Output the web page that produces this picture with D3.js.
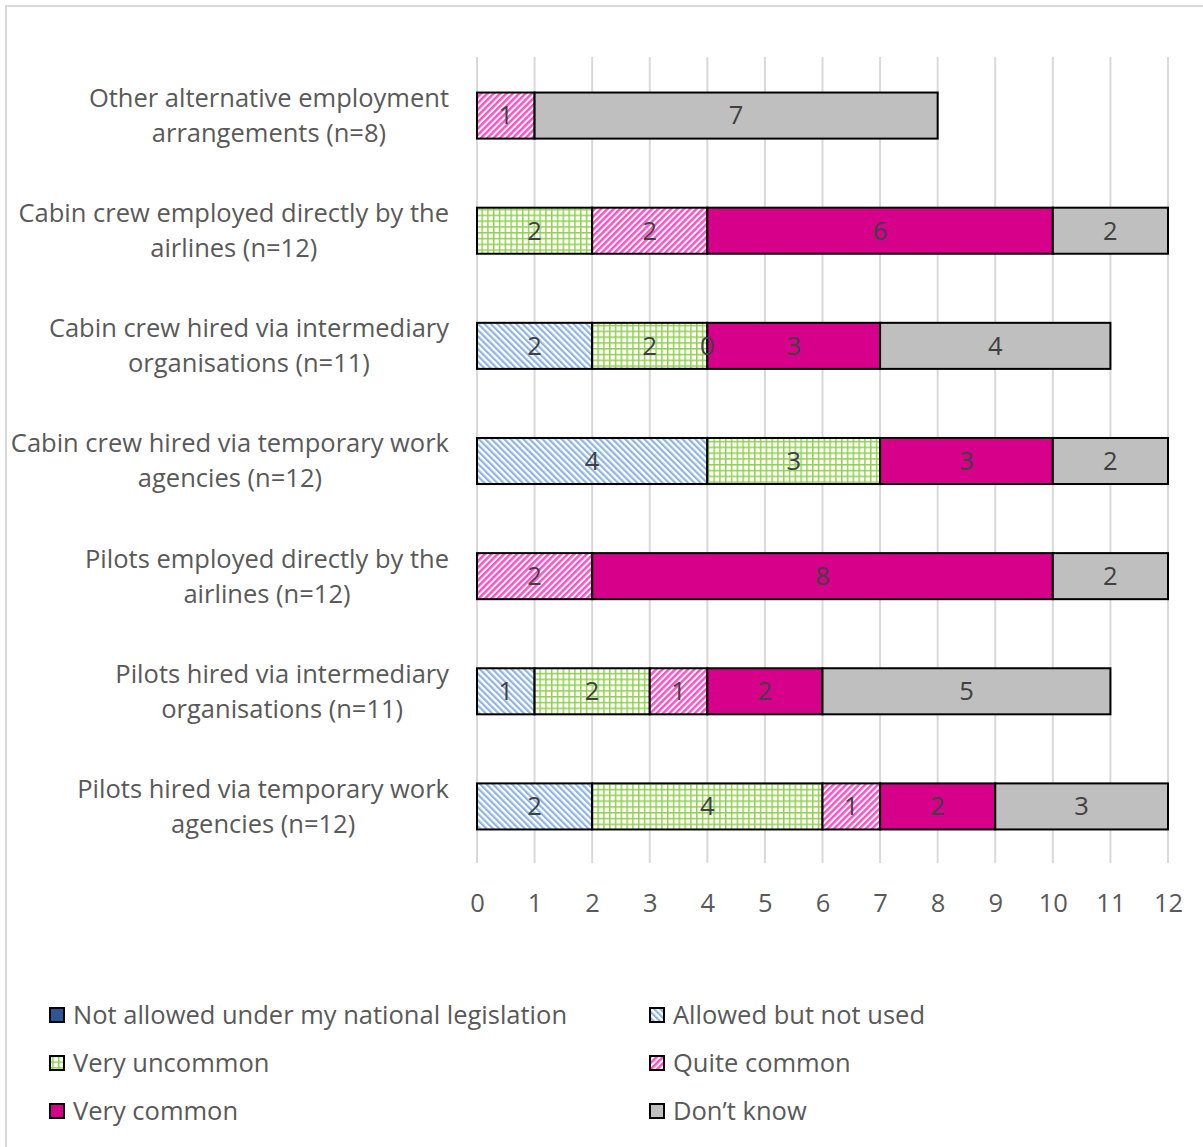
<!DOCTYPE html>
<html>
<head>
<meta charset="utf-8">
<script src="https://cdn.jsdelivr.net/npm/d3@7"></script>
<style>
  body { margin: 0; background: #fff; }
  svg { display: block; font-family: "Open Sans", Lato, sans-serif; }
</style>
</head>
<body>
<div id="chart"></div>
<script>
// Chart data (top to bottom)
const categories = [
    ['Other alternative employment', 'arrangements (n=8)'],
    ['Cabin crew employed directly by the', 'airlines (n=12)'],
    ['Cabin crew hired via intermediary', 'organisations (n=11)'],
    ['Cabin crew hired via temporary work', 'agencies (n=12)'],
    ['Pilots employed directly by the', 'airlines (n=12)'],
    ['Pilots hired via intermediary', 'organisations (n=11)'],
    ['Pilots hired via temporary work', 'agencies (n=12)']
];
const seriesNames = ['Not allowed under my national legislation', 'Allowed but not used',
    'Very uncommon', 'Quite common', 'Very common', 'Don\u2019t know'];

// null = no data label shown, 0 = zero label shown
const notAllowed    = [null, null, null, null, null, null, null];
const allowedUnused = [null, null, 2, 4, null, 1, 2];
const veryUncommon  = [null, 2, 2, 3, null, 2, 4];
const quiteCommon   = [1, 2, 0, null, 2, 1, 1];
const veryCommon    = [null, 6, 3, 3, 8, 2, 2];
const dontKnow      = [7, 2, 4, 2, 2, 5, 3];

const xTicks = [0, 1, 2, 3, 4, 5, 6, 7, 8, 9, 10, 11, 12];

const seriesValues = [notAllowed, allowedUnused, veryUncommon, quiteCommon, veryCommon, dontKnow];
const fills = ['#2f5597', 'url(#pBlue)', 'url(#pGreen)', 'url(#pPink)', '#d6008a', '#bfbfbf'];

const width = 1203, height = 1147;
const plot = {left: 477, right: 1168, top: 57, bottom: 863};
const FONT = 25.5;

const svg = d3.select('#chart').append('svg')
    .attr('width', width)
    .attr('height', height);

// Patterns
const defs = svg.append('defs');

const pBlue = defs.append('pattern').attr('id', 'pBlue')
    .attr('patternUnits', 'userSpaceOnUse')
    .attr('width', 4.5).attr('height', 10)
    .attr('patternTransform', 'rotate(-45)');
pBlue.append('rect').attr('width', 4.5).attr('height', 10).attr('fill', '#fff');
pBlue.append('rect').attr('width', 2.2).attr('height', 10).attr('fill', '#8db4e2');

const pPink = defs.append('pattern').attr('id', 'pPink')
    .attr('patternUnits', 'userSpaceOnUse')
    .attr('width', 4.5).attr('height', 10)
    .attr('patternTransform', 'rotate(45)');
pPink.append('rect').attr('width', 4.5).attr('height', 10).attr('fill', '#fff');
pPink.append('rect').attr('width', 2.5).attr('height', 10).attr('fill', '#ff4fc8');

const pGreen = defs.append('pattern').attr('id', 'pGreen')
    .attr('patternUnits', 'userSpaceOnUse')
    .attr('width', 5.8).attr('height', 5.8);
pGreen.append('rect').attr('width', 5.8).attr('height', 5.8).attr('fill', '#fff');
pGreen.append('rect').attr('width', 1.5).attr('height', 5.8).attr('fill', '#92d050');
pGreen.append('rect').attr('width', 5.8).attr('height', 1.5).attr('fill', '#92d050');

// Outer border
svg.append('rect')
    .attr('x', 6).attr('y', 6)
    .attr('width', 1220).attr('height', 1170)
    .attr('fill', 'none')
    .attr('stroke', '#d9d9d9')
    .attr('stroke-width', 2);

// Scales
const x = d3.scaleLinear().domain([0, 12]).range([plot.left, plot.right]);
const y = d3.scaleBand()
    .domain(d3.range(categories.length))
    .range([plot.top, plot.bottom])
    .paddingInner(0.6)
    .paddingOuter(0.3);

// Gridlines
svg.append('g')
    .selectAll('line')
    .data(xTicks)
    .enter()
    .append('line')
    .attr('x1', d => x(d)).attr('x2', d => x(d))
    .attr('y1', plot.top).attr('y2', plot.bottom)
    .attr('stroke', '#d9d9d9')
    .attr('stroke-width', 2);

// X axis labels
const xAxis = svg.append('g')
    .attr('transform', `translate(0,${plot.bottom + 40})`)
    .call(d3.axisBottom(x).tickValues(xTicks).tickSize(0).tickPadding(0));
xAxis.select('.domain').remove();
xAxis.selectAll('text')
    .attr('dy', '0.35em')
    .style('font-size', FONT + 'px')
    .style('font-family', '"Open Sans", Lato, sans-serif')
    .attr('fill', '#595959');

// Build stacked segments
const segments = [];
categories.forEach((c, i) => {
    let acc = 0;
    seriesValues.forEach((vals, s) => {
        const v = vals[i];
        if (v === null) return;
        segments.push({cat: i, series: s, x0: acc, x1: acc + v, value: v});
        acc += v;
    });
});

const bars = svg.append('g');
bars.selectAll('rect')
    .data(segments.filter(d => d.value > 0))
    .enter()
    .append('rect')
    .attr('x', d => x(d.x0))
    .attr('y', d => y(d.cat) + 1)
    .attr('width', d => x(d.x1) - x(d.x0))
    .attr('height', y.bandwidth())
    .attr('fill', d => fills[d.series])
    .attr('stroke', '#000')
    .attr('stroke-width', 2);

// Data labels
svg.append('g')
    .selectAll('text')
    .data(segments)
    .enter()
    .append('text')
    .attr('x', d => (x(d.x0) + x(d.x1)) / 2)
    .attr('y', d => y(d.cat) + 1 + y.bandwidth() / 2)
    .attr('dy', '0.35em')
    .attr('text-anchor', 'middle')
    .attr('font-size', FONT)
    .attr('fill', '#404040')
    .text(d => d.value);

// Category labels: centred block, right edge at 449
const labelRight = 449;
const catG = svg.append('g');
categories.forEach((lines, i) => {
    const g = catG.append('g');
    const texts = lines.map((ln, k) => g.append('text')
        .attr('y', y(i) + 1 + y.bandwidth() / 2 + (k - 0.5) * 35)
        .attr('dy', '0.35em')
        .attr('text-anchor', 'middle')
        .attr('font-size', FONT)
        .attr('fill', '#595959')
        .text(ln));
    const maxW = d3.max(texts, t => t.node().getComputedTextLength());
    texts.forEach(t => t.attr('x', labelRight - maxW / 2));
});

// Legend
const legendPos = [
    {x: 49, y: 1015}, {x: 649, y: 1015},
    {x: 49, y: 1063}, {x: 649, y: 1063},
    {x: 49, y: 1111}, {x: 649, y: 1111}
];
const legend = svg.append('g');
seriesNames.forEach((name, s) => {
    const p = legendPos[s];
    legend.append('rect')
        .attr('x', p.x + 1).attr('y', p.y - 7)
        .attr('width', 14).attr('height', 14)
        .attr('fill', fills[s])
        .attr('stroke', '#000')
        .attr('stroke-width', 2);
    legend.append('text')
        .attr('x', p.x + 24)
        .attr('y', p.y)
        .attr('dy', '0.35em')
        .attr('font-size', FONT)
        .attr('fill', '#595959')
        .text(name);
});
</script>
</body>
</html>
